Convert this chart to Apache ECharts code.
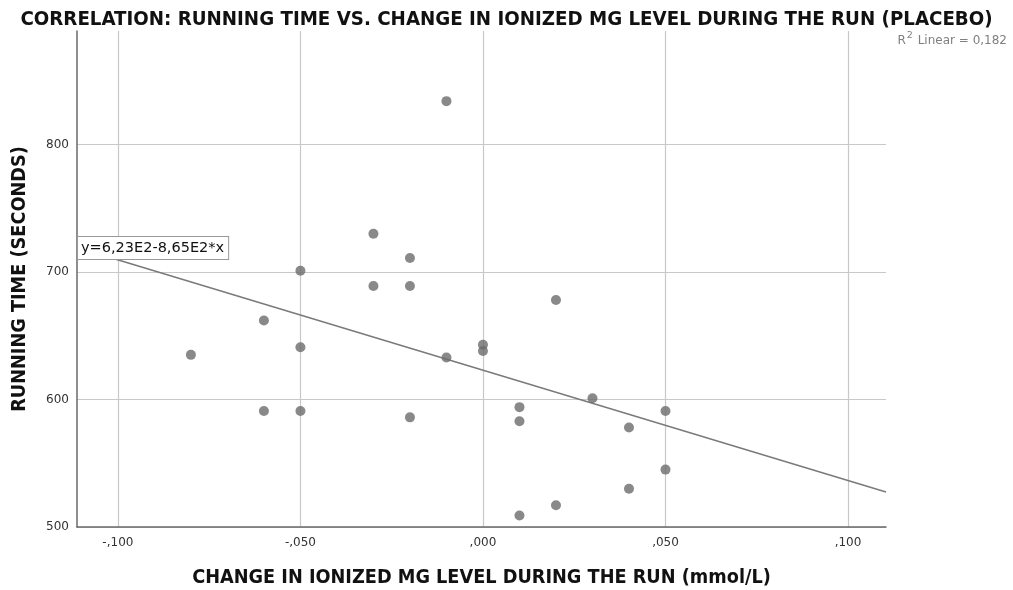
<!DOCTYPE html>
<html>
<head>
<meta charset="utf-8">
<script src="https://cdn.jsdelivr.net/npm/echarts@6/dist/echarts.min.js"></script>
<style>
html,body{margin:0;padding:0;background:#fff;}
#chart{width:1013px;height:590px;}
</style>
</head>
<body>
<div id="chart"></div>
<script>
// ---- data ----
const xValues = [-0.01, -0.03, -0.02, -0.05, -0.03, -0.02, 0.02, -0.06, -0.05, 0.00, 0.00, -0.01, -0.08, 0.03, -0.06, -0.05, 0.05, 0.01, 0.01, -0.02, 0.04, 0.05, 0.04, 0.02, 0.01];
const yValues = [834, 730, 711, 701, 689, 689, 678, 662, 641, 643, 638, 633, 635, 601, 591, 591, 591, 594, 583, 586, 578, 545, 530, 517, 509];
const fitIntercept = 623;   // 6,23E2
const fitSlope = -865;      // -8,65E2
const rSquared = '0,182';
const xTickValues = [-0.1, -0.05, 0, 0.05, 0.1];
const xTickLabels = ['-,100', '-,050', ',000', ',050', ',100'];
const yTickValues = [500, 600, 700, 800];
const xRange = [-0.1112, 0.1104];
const yRange = [500, 889];

const titleText = 'CORRELATION: RUNNING TIME VS. CHANGE IN IONIZED MG LEVEL DURING THE RUN (PLACEBO)';
const xName = 'CHANGE IN IONIZED MG LEVEL DURING THE RUN (mmol/L)';
const yName = 'RUNNING TIME (SECONDS)';
const equationText = 'y=6,23E2-8,65E2*x';

const points = xValues.map((x, i) => [x, yValues[i]]);
const fitLine = xRange.map(x => [x, fitIntercept + fitSlope * x]);

const chart = echarts.init(document.getElementById('chart'), null, {renderer: 'canvas'});
const condensed = '"Liberation Sans Narrow","DejaVu Sans Condensed","Liberation Sans",sans-serif';

chart.setOption({
  animation: false,
  backgroundColor: '#ffffff',
  title: {
    text: titleText,
    left: 'center',
    top: 5,
    textStyle: {fontFamily: condensed, fontWeight: 'bold', fontSize: 20.3, color: '#111'}
  },
  grid: {left: 77, right: 127, top: 31, bottom: 63, containLabel: false, outerBoundsMode: 'none'},
  xAxis: {
    type: 'value',
    min: xRange[0], max: xRange[1],
    name: xName,
    nameLocation: 'middle',
    nameGap: 41,
    nameTextStyle: {fontFamily: condensed, fontWeight: 'bold', fontSize: 19.7, color: '#111'},
    axisLine: {show: true, onZero: false, lineStyle: {color: '#6a6a6a', width: 1.5}},
    axisTick: {show: false, customValues: xTickValues},
    axisLabel: {
      customValues: xTickValues,
      margin: 10,
      color: '#333',
      fontFamily: '"DejaVu Sans",sans-serif',
      fontSize: 12,
      formatter: v => {
        const i = xTickValues.findIndex(t => Math.abs(t - v) < 1e-9);
        return i >= 0 ? xTickLabels[i] : '';
      }
    },
    splitLine: {show: true, lineStyle: {color: '#c8c8c8', width: 1.2}}
  },
  yAxis: {
    type: 'value',
    min: yRange[0], max: yRange[1],
    name: yName,
    nameLocation: 'middle',
    nameGap: 47,
    nameTextStyle: {fontFamily: condensed, fontWeight: 'bold', fontSize: 19.7, color: '#111'},
    axisLine: {show: true, onZero: false, lineStyle: {color: '#6a6a6a', width: 1.5}},
    axisTick: {show: false, customValues: yTickValues},
    axisLabel: {
      customValues: yTickValues,
      margin: 8,
      color: '#333',
      fontFamily: '"DejaVu Sans",sans-serif',
      fontSize: 12
    },
    splitLine: {show: true, lineStyle: {color: '#c8c8c8', width: 1.2}}
  },
  series: [
    {
      type: 'line',
      data: fitLine,
      symbol: 'none',
      lineStyle: {color: '#7a7a7a', width: 1.5},
      z: 2,
      silent: true
    },
    {
      type: 'scatter',
      data: points,
      symbol: 'circle',
      symbolSize: 10,
      itemStyle: {color: '#6b6b6b'},
      z: 3
    }
  ],
  graphic: [
    {
      type: 'text',
      left: 77, top: 236,
      z: 10,
      style: {
        text: equationText,
        fontFamily: '"DejaVu Sans",sans-serif',
        fontSize: 14.5,
        fill: '#111',
        backgroundColor: '#fff',
        borderColor: '#999',
        borderWidth: 1,
        padding: [4, 4, 3, 3]
      }
    },
    {
      type: 'text',
      right: 6, top: 31,
      style: {
        text: '{r|R}{s|2}{r| Linear = ' + rSquared + '}',
        rich: {
          r: {fontFamily: '"DejaVu Sans",sans-serif', fontSize: 12, fill: '#808080', padding: [6, 0, 0, 0]},
          s: {fontFamily: '"DejaVu Sans",sans-serif', fontSize: 9.5, fill: '#808080', padding: [0, 1, 4, 1]}
        }
      }
    }
  ]
});
</script>
</body>
</html>
